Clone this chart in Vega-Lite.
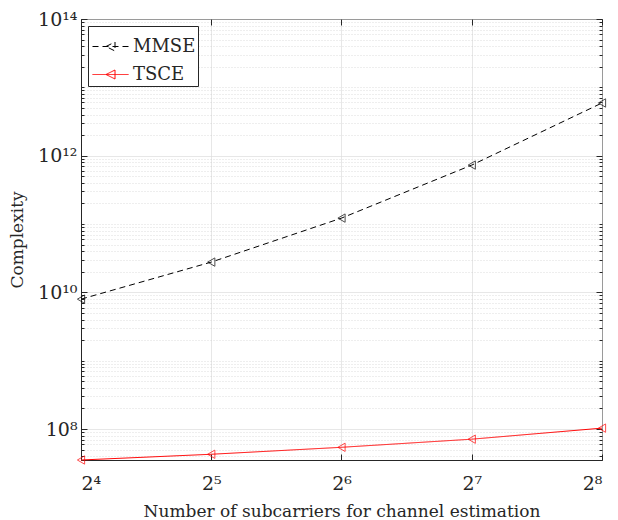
{
  "$schema": "https://vega.github.io/schema/vega-lite/v6.json",
  "width": 521,
  "height": 441,
  "autosize": "none",
  "padding": {"left": 81, "top": 19, "right": 16, "bottom": 60},
  "background": "white",
  "config": {
    "font": "DejaVu Serif",
    "view": {"stroke": "black", "strokeWidth": 1},
    "axis": {"labelFont": "DejaVu Serif", "titleFont": "DejaVu Serif", "titleFontWeight": "normal", "labelColor": "#262626", "titleColor": "#262626"},
    "legend": {"orient": "top-left", "offset": 7,
      "strokeColor": "#262626", "fillColor": "white", "padding": 2, "cornerRadius": 0,
      "labelFontSize": 18, "labelFont": "DejaVu Serif", "labelColor": "#262626",
      "symbolType": "M-1,0H1M-0.25,0L0.25,-0.25L0.25,0.25Z", "symbolSize": 1296, "symbolStrokeWidth": 1,
      "rowPadding": -9, "labelOffset": 4, "symbolOffset": 2}
  },
  "data": {
    "values": [
      {"n": 16, "c": 7.95e9, "method": "MMSE"},
      {"n": 32, "c": 2.77e10, "method": "MMSE"},
      {"n": 64, "c": 1.22e11, "method": "MMSE"},
      {"n": 128, "c": 7.28e11, "method": "MMSE"},
      {"n": 256, "c": 5.9e12, "method": "MMSE"},
      {"n": 16, "c": 3.52e7, "method": "TSCE"},
      {"n": 32, "c": 4.27e7, "method": "TSCE"},
      {"n": 64, "c": 5.4e7, "method": "TSCE"},
      {"n": 128, "c": 7.1e7, "method": "TSCE"},
      {"n": 256, "c": 1.03e8, "method": "TSCE"}
    ]
  },
  "layer": [
    {
      "mark": {"type": "line", "strokeWidth": 1, "clip": false},
      "encoding": {
        "x": {"field": "n", "type": "quantitative",
          "scale": {"type": "log", "base": 2, "domain": [16, 256], "nice": false},
          "axis": {"orient": "bottom", "values": [16, 32, 64, 128, 256],
            "labelExpr": "datum.value == 16 ? '2⁴' : datum.value == 32 ? '2⁵' : datum.value == 64 ? '2⁶' : datum.value == 128 ? '2⁷' : '2⁸'",
            "labelFontSize": 19, "labelPadding": 20, "tickSize": -6, "tickColor": "#262626", "domainColor": "#262626",
            "grid": true, "gridColor": "#dcdcdc", "gridWidth": 0.7,
            "title": "Number of subcarriers for channel estimation", "titleFontSize": 17, "titlePadding": 10}},
        "y": {"field": "c", "type": "quantitative",
          "scale": {"type": "log", "domain": [3.52e7, 1e14], "nice": false},
          "axis": {"orient": "left", "values": [1e8, 1e10, 1e12, 1e14],
            "labelExpr": "datum.value == 1e8 ? '10⁸' : datum.value == 1e10 ? '10¹⁰' : datum.value == 1e12 ? '10¹²' : '10¹⁴'",
            "labelFontSize": 19, "labelPadding": 10, "tickSize": -6, "tickColor": "#262626", "domainColor": "#262626",
            "grid": true, "gridColor": "#dcdcdc", "gridWidth": 0.7,
            "title": "Complexity", "titleFontSize": 17, "titlePadding": 11}},
        "color": {"field": "method", "type": "nominal",
          "scale": {"domain": ["MMSE", "TSCE"], "range": ["black", "red"]},
          "legend": {"title": null, "encode": {"symbols": {"update": {"fill": {"value": "white"}}}}}},
        "strokeDash": {"field": "method", "type": "nominal",
          "scale": {"domain": ["MMSE", "TSCE"], "range": [[6, 4], [1, 0]]},
          "legend": {"title": null, "encode": {"symbols": {"update": {"fill": {"value": "white"}}}}}}
      }
    },
    {
      "mark": {"type": "point", "shape": "triangle-left", "filled": false, "size": 70, "strokeWidth": 1, "clip": false},
      "encoding": {
        "x": {"field": "n", "type": "quantitative",
          "axis": {"orient": "top", "values": [16, 32, 64, 128, 256], "labels": false, "tickSize": -6, "tickColor": "#262626", "domain": false, "grid": false, "title": null}},
        "y": {"field": "c", "type": "quantitative",
          "axis": {"orient": "left",
            "values": [4e7, 5e7, 6e7, 7e7, 8e7, 9e7, 2e8, 3e8, 4e8, 5e8, 6e8, 7e8, 8e8, 9e8, 1e9, 2e9, 3e9, 4e9, 5e9, 6e9, 7e9, 8e9, 9e9, 2e10, 3e10, 4e10, 5e10, 6e10, 7e10, 8e10, 9e10, 1e11, 2e11, 3e11, 4e11, 5e11, 6e11, 7e11, 8e11, 9e11, 2e12, 3e12, 4e12, 5e12, 6e12, 7e12, 8e12, 9e12, 1e13, 2e13, 3e13, 4e13, 5e13, 6e13, 7e13, 8e13, 9e13],
            "labels": false, "tickSize": -3, "tickColor": "#262626", "domain": false,
            "grid": true, "gridColor": "#c8c8c8", "gridDash": [1, 2], "gridWidth": 0.6, "title": null}},
        "color": {"field": "method", "type": "nominal", "legend": null}
      }
    },
    {
      "mark": {"type": "line", "opacity": 0},
      "encoding": {
        "x": {"field": "n", "type": "quantitative", "axis": null},
        "y": {"field": "c", "type": "quantitative",
          "axis": {"orient": "right", "values": [1e8, 1e10, 1e12, 1e14], "labels": false, "tickSize": -6, "tickColor": "#262626", "domain": false, "grid": false, "title": null}}
      }
    },
    {
      "mark": {"type": "line", "opacity": 0},
      "encoding": {
        "x": {"field": "n", "type": "quantitative", "axis": null},
        "y": {"field": "c", "type": "quantitative",
          "axis": {"orient": "right",
            "values": [4e7, 5e7, 6e7, 7e7, 8e7, 9e7, 2e8, 3e8, 4e8, 5e8, 6e8, 7e8, 8e8, 9e8, 1e9, 2e9, 3e9, 4e9, 5e9, 6e9, 7e9, 8e9, 9e9, 2e10, 3e10, 4e10, 5e10, 6e10, 7e10, 8e10, 9e10, 1e11, 2e11, 3e11, 4e11, 5e11, 6e11, 7e11, 8e11, 9e11, 2e12, 3e12, 4e12, 5e12, 6e12, 7e12, 8e12, 9e12, 1e13, 2e13, 3e13, 4e13, 5e13, 6e13, 7e13, 8e13, 9e13],
            "labels": false, "tickSize": -3, "tickColor": "#262626", "domain": false, "grid": false, "title": null}}
      }
    }
  ],
  "resolve": {"axis": {"x": "independent", "y": "independent"}}
}
